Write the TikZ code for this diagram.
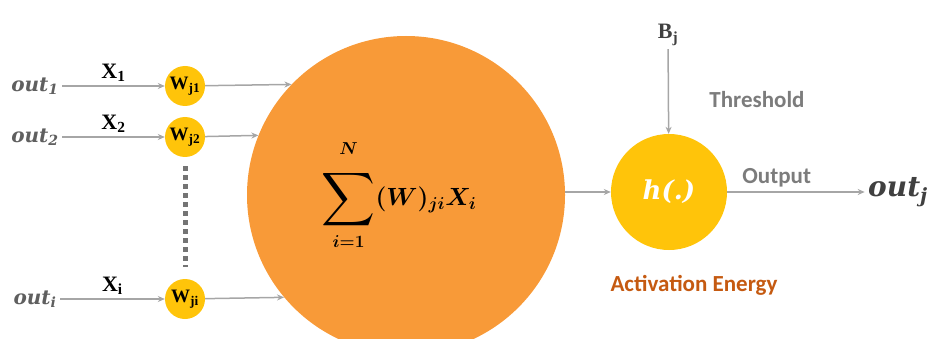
\documentclass[tikz,border=0pt]{standalone}
\usepackage{fontspec}
\usepackage{amsmath}
\setsansfont{Carlito}
\newfontfamily\timesbold{Liberation Serif}
\newfontfamily\mathlike{DejaVu Serif}
\usetikzlibrary{arrows.meta}
\definecolor{neuroOrange}{RGB}{248,154,56}
\definecolor{neuroYellow}{RGB}{255,196,10}
\definecolor{neuroGray}{RGB}{166,166,166}
\definecolor{neuroText}{RGB}{95,95,95}
\definecolor{neuroDark}{RGB}{64,64,64}
\definecolor{neuroBrown}{RGB}{197,90,17}
\newcommand{\outvar}[1]{out\textsubscript{#1}}
\newcommand{\bigsum}{\mathop{\vcenter{\hbox{\scalebox{1.5}{$\displaystyle\sum$}}}}\limits}

\begin{document}
\begin{tikzpicture}[x=1pt, y=-1pt,
    weight/.style={circle, fill=neuroYellow, minimum size=40pt, inner sep=0pt,
                   font=\timesbold\bfseries\fontsize{19}{19}\selectfont},
    inp/.style={font=\mathlike\bfseries\itshape\fontsize{20}{20}\selectfont, text=neuroText},
    sig/.style={font=\timesbold\bfseries\fontsize{22}{22}\selectfont},
    tag/.style={font=\sffamily\bfseries\fontsize{23}{23}\selectfont},
    arr/.style={-{Stealth[length=7pt, width=6pt]}, line width=1.5pt, draw=neuroGray}
  ]
  \path[use as bounding box, clip] (0,0) rectangle (933,339);

  % Summation body
  \node[circle, fill=neuroOrange, minimum size=318pt, inner sep=0pt,
        font=\boldmath\fontsize{27}{30}\selectfont] (sum) at (406,195)
        {$\bigsum_{\rule{0pt}{14pt}i=1}^{\rule[-12pt]{0pt}{12pt}N}(W)_{ji}X_i$\hspace*{14pt}};

  % Inputs and weights
  \node[inp] (out1) at (35,86)  {\outvar{1}};
  \node[inp] (out2) at (35,137) {\outvar{2}};
  \node[inp] (outi) at (35,299) {\outvar{i}};
  \node[weight] (w1) at (185,86)  {W\textsubscript{j1}};
  \node[weight] (w2) at (185,137) {W\textsubscript{j2}};
  \node[weight] (wi) at (185,299) {W\textsubscript{ji}};
  \draw[arr] (out1) -- (w1) node[midway, above, sig] {X\textsubscript{1}};
  \draw[arr] (out2) -- (w2) node[midway, above, sig] {X\textsubscript{2}};
  \draw[arr] (outi) -- (wi) node[midway, above, sig] {X\textsubscript{i}};
  \draw[neuroGray!70!black, line width=5pt, dash pattern=on 5pt off 4pt,
        shorten <=9pt, shorten >=12pt] (w2) -- (wi);
  \draw[arr] (w1) -- (sum.136.7);
  \draw[arr] (w2) -- (sum.158.6);
  \draw[arr] (wi) -- (sum.220.9);

  % Activation
  \node[circle, fill=neuroYellow, minimum size=116pt, inner sep=0pt, text=white,
        font=\mathlike\bfseries\itshape\fontsize{26}{26}\selectfont] (act) at (669,192) {h(.)};
  \node[sig, text=neuroDark] (bj) at (668,35) {B\textsubscript{j}};
  \node[inp, text=neuroDark, font=\mathlike\bfseries\itshape\fontsize{28}{28}\selectfont]
        (outj) at (898,192) {\outvar{j}};
  \draw[arr] (act.west -| sum.east) -- (act);
  \draw[arr] (bj) -- (act);
  \draw[arr] (act) -- (outj)
    node[pos=0.36, above=1pt, tag, text=neuroGray!75!black] {Output};

  % Labels
  \node[tag, text=neuroGray!75!black] at (757,100) {Threshold};
  \node[tag, text=neuroBrown] at (694,285) {Activation Energy};
\end{tikzpicture}
\end{document}
